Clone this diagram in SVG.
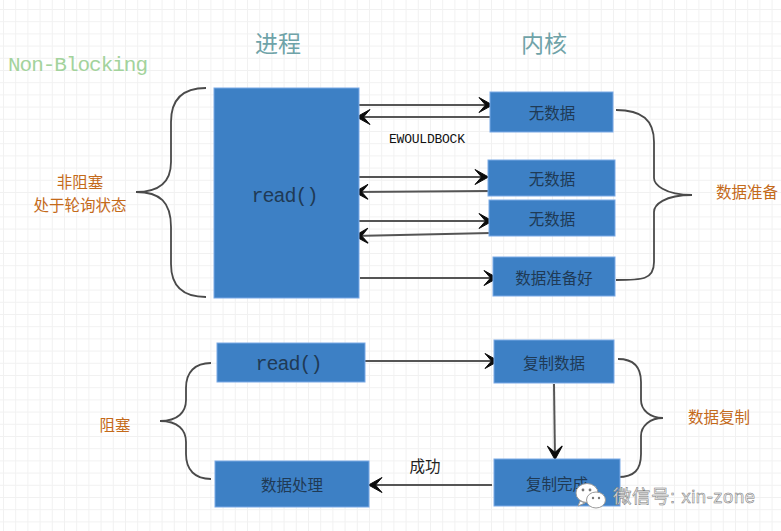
<svg xmlns="http://www.w3.org/2000/svg" width="781" height="531" viewBox="0 0 781 531">
<style>
text{font-family:"Liberation Mono","Noto Sans CJK SC",monospace}
.n{fill:#3d80c5;stroke:#7aa9e6;stroke-width:1}
.t{fill:#1f3a55;font-size:15.5px;text-anchor:middle}
.r{fill:#1f3a55;font-size:20px;text-anchor:middle;font-family:"Liberation Mono",monospace}
.o{fill:#c46a1a;font-size:15.5px;text-anchor:middle}
.c{fill:none;stroke:#555;stroke-width:2}
.b{fill:none;stroke:#4a4a4a;stroke-width:1.8}
.h{fill:#6fa3a8;font-size:23px;text-anchor:middle}
</style>
<defs>
<pattern id="g" width="12.2" height="12.2" patternUnits="userSpaceOnUse" x="3" y="9">
<path d="M12.2 0H0V12.2" fill="none" stroke="#f1f1f1" stroke-width="2"/>
</pattern>
<marker id="a" markerUnits="userSpaceOnUse" markerWidth="20" markerHeight="20" refX="16" refY="10" orient="auto" overflow="visible">
<path d="M2 2.5L15.5 10L2 17.5L8.5 10Z" fill="#0c0c0c" stroke="#0c0c0c" stroke-width="1"/>
</marker>
</defs>
<rect width="781" height="531" fill="#fff"/>
<rect width="781" height="531" fill="url(#g)"/>
<text x="8" y="71" font-size="21" fill="#a3d39c" style="font-family:'Liberation Mono',monospace" textLength="140">Non-Blocking</text>
<text class="h" x="278" y="52">进程</text>
<text class="h" x="544" y="52">内核</text>
<g id="connectors">
<path class="c" marker-end="url(#a)" d="M357 105H493"/>
<path class="c" marker-end="url(#a)" d="M491 117H356"/>
<path class="c" marker-end="url(#a)" d="M357 177H489"/>
<path class="c" marker-end="url(#a)" d="M488 191L354 192"/>
<path class="c" marker-end="url(#a)" d="M358 221H493"/>
<path class="c" marker-end="url(#a)" d="M491 233L354 236"/>
<path class="c" marker-end="url(#a)" d="M360 278H498"/>
<path class="c" marker-end="url(#a)" d="M363 361H499"/>
<path class="c" marker-end="url(#a)" d="M554 384L555 460"/>
<path class="c" marker-end="url(#a)" d="M492 485L368 485"/>
</g>
<g id="brace-left-top"><path class="b" d="M206 88C182 88 171 100 171 122V162C171 182 160 192 136 192C160 192 171 202 171 227V264C171 286 182 297 206 297"/></g>
<g id="brace-right-top"><path class="b" d="M616 110C642 110 654 120 654 142V178C654 184 664 195 692 195C664 195 654 205 654 212V262C654 280 642 280 616 280"/></g>
<g id="brace-left-bottom"><path class="b" d="M211 363C195 363 186 372 186 388V400C186 412 178 421 160 421C178 421 186 430 186 442V454C186 470 195 479 211 479"/></g>
<g id="brace-right-bottom"><path class="b" d="M618 359C634 359 641 367 641 382V400C641 410 650 418 663 418C650 418 641 426 641 436V454C641 470 634 477 618 477"/></g>
<g id="read-main"><rect class="n" x="214" y="88" width="145" height="210"/><text class="r" x="285" y="202" textLength="67">read()</text></g>
<g id="nodata-1"><rect class="n" x="490" y="92" width="123" height="40"/><text class="t" x="552" y="119">无数据</text></g>
<g id="nodata-2"><rect class="n" x="488" y="160" width="127" height="36"/><text class="t" x="552" y="185">无数据</text></g>
<g id="nodata-3"><rect class="n" x="489" y="200" width="126" height="36"/><text class="t" x="552" y="225">无数据</text></g>
<g id="data-ready"><rect class="n" x="493" y="257" width="122" height="39"/><text class="t" x="554" y="284">数据准备好</text></g>
<g id="read-block"><rect class="n" x="217" y="343" width="148" height="39"/><text class="r" x="289" y="370" textLength="67">read()</text></g>
<g id="process-data"><rect class="n" x="215" y="461" width="154" height="46"/><text class="t" x="292" y="491">数据处理</text></g>
<g id="copy-data"><rect class="n" x="494" y="340" width="120" height="43"/><text class="t" x="554" y="369">复制数据</text></g>
<g id="copy-done"><rect class="n" x="494" y="459" width="126" height="47"/><text class="t" x="557" y="490">复制完成</text></g>
<text x="427" y="143" font-size="13" fill="#111" text-anchor="middle" textLength="76" style="font-family:'Liberation Mono',monospace">EWOULDBOCK</text>
<text class="o" x="80" y="188">非阻塞</text>
<text class="o" x="80" y="211">处于轮询状态</text>
<text class="o" x="747" y="198">数据准备</text>
<text class="o" x="115" y="431">阻塞</text>
<text class="o" x="719" y="423">数据复制</text>
<text x="425" y="472" font-size="15.5" fill="#222" text-anchor="middle">成功</text>
<g id="watermark">
<ellipse cx="587" cy="493" rx="11" ry="9.5" fill="#fff" stroke="#9a9a9a"/>
<path d="M580 501L578 506L585 503Z" fill="#fff" stroke="#9a9a9a"/>
<ellipse cx="596" cy="500" rx="9.5" ry="8" fill="#fff" stroke="#9a9a9a"/>
<circle cx="583" cy="490" r="1.4" fill="#777"/><circle cx="590" cy="490" r="1.4" fill="#777"/>
<circle cx="593" cy="498" r="1.2" fill="#777"/><circle cx="599" cy="498" r="1.2" fill="#777"/>
<text x="613" y="503" font-size="18.5" fill="#f2f2f2" stroke="#777" stroke-width=".5" textLength="142" style="font-family:'Liberation Sans','Noto Sans CJK SC',sans-serif">微信号: xin-zone</text>
</g>
</svg>
